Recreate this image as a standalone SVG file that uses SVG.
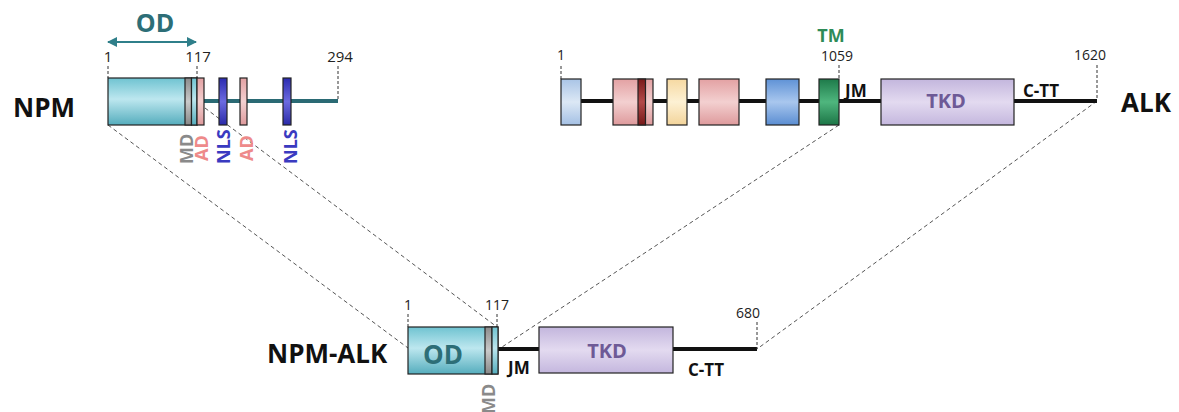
<svg xmlns="http://www.w3.org/2000/svg" width="1179" height="412" viewBox="0 0 1179 412">
<style>
text{font-family:"Open Sans","Liberation Sans",sans-serif}
.b{font-weight:bold}
.num{font-size:15px;fill:#222}
.sn{font-size:14px;fill:#222}
.dash{stroke:#555;stroke-width:1;stroke-dasharray:4,3;fill:none}
.vd{stroke:#333;stroke-width:1;stroke-dasharray:3,2;fill:none}
.box{stroke:#222;stroke-width:1.2}
.bl{stroke:#111;stroke-width:4}
.vl{font-size:18px;font-weight:bold}
.lb{font-size:17px;font-weight:bold;fill:#111}
.tkd{font-size:20px;font-weight:bold;fill:#6e5a96}
</style>
<defs>
<linearGradient id="gOD" x1="0" y1="0" x2="0" y2="1">
<stop offset="0" stop-color="#6fc3d1"/><stop offset="0.45" stop-color="#bde7ef"/><stop offset="1" stop-color="#55adbd"/></linearGradient>
<linearGradient id="gTKD" x1="0" y1="0" x2="0" y2="1">
<stop offset="0" stop-color="#c3b6dd"/><stop offset="0.5" stop-color="#e3daf0"/><stop offset="1" stop-color="#c4b7de"/></linearGradient>
<linearGradient id="gPink" x1="0" y1="0" x2="0" y2="1">
<stop offset="0" stop-color="#e3a1a3"/><stop offset="0.5" stop-color="#f3d0d0"/><stop offset="1" stop-color="#de9a9c"/></linearGradient>
<linearGradient id="gLB" x1="0" y1="0" x2="0" y2="1">
<stop offset="0" stop-color="#a9c4e6"/><stop offset="0.5" stop-color="#dce8f5"/><stop offset="1" stop-color="#a4c0e4"/></linearGradient>
<linearGradient id="gY" x1="0" y1="0" x2="0" y2="1">
<stop offset="0" stop-color="#f6d9a2"/><stop offset="0.5" stop-color="#fdf1d4"/><stop offset="1" stop-color="#f3d49a"/></linearGradient>
<linearGradient id="gB" x1="0" y1="0" x2="0" y2="1">
<stop offset="0" stop-color="#5f92d6"/><stop offset="0.5" stop-color="#a9c7ee"/><stop offset="1" stop-color="#5a8dd2"/></linearGradient>
<linearGradient id="gG" x1="0" y1="0" x2="0" y2="1">
<stop offset="0" stop-color="#1e7a4a"/><stop offset="0.5" stop-color="#4fb67e"/><stop offset="1" stop-color="#1c7546"/></linearGradient>
<linearGradient id="gNLS" x1="0" y1="0" x2="0" y2="1">
<stop offset="0" stop-color="#2b2bb0"/><stop offset="0.5" stop-color="#6b6be0"/><stop offset="1" stop-color="#2a2aa8"/></linearGradient>
<linearGradient id="gGr" x1="0" y1="0" x2="0" y2="1">
<stop offset="0" stop-color="#8c8c8c"/><stop offset="0.5" stop-color="#c9c9c9"/><stop offset="1" stop-color="#888"/></linearGradient>
<linearGradient id="gDR" x1="0" y1="0" x2="0" y2="1">
<stop offset="0" stop-color="#7a1a1a"/><stop offset="0.5" stop-color="#b34a4a"/><stop offset="1" stop-color="#761818"/></linearGradient>
<marker id="ah" viewBox="0 0 10 10" refX="9" refY="5" markerWidth="5" markerHeight="5" orient="auto-start-reverse">
<path d="M0,0 L10,5 L0,10 z" fill="#2f7f8a"/></marker>
</defs>

<g id="connectors">
<line class="dash" x1="108" y1="125" x2="408" y2="348"/>
<line class="dash" x1="205" y1="108" x2="497" y2="327"/>
<line class="dash" x1="839" y1="125" x2="499" y2="349"/>
<line class="dash" x1="1097" y1="101" x2="757" y2="349"/>
</g>

<g id="npm">
<text x="13" y="117" class="b" font-size="26" fill="#111">NPM</text>
<line x1="108" y1="42" x2="196" y2="42" stroke="#2f7f8a" stroke-width="2" marker-start="url(#ah)" marker-end="url(#ah)"/>
<text x="155" y="32" class="b" font-size="25" fill="#2d6e77" text-anchor="middle">OD</text>
<text x="108" y="62" class="num" text-anchor="middle">1</text>
<text x="198" y="62" class="num" text-anchor="middle">117</text>
<text x="340" y="62" class="num" text-anchor="middle">294</text>
<line class="vd" x1="108" y1="66" x2="108" y2="78"/>
<line class="vd" x1="197" y1="66" x2="197" y2="78"/>
<line class="vd" x1="338" y1="66" x2="338" y2="100"/>
<line x1="204" y1="101" x2="338" y2="101" stroke="#2a6a74" stroke-width="4"/>
<rect class="box" x="108" y="78" width="89" height="47" fill="url(#gOD)"/>
<rect class="box" x="185" y="78" width="6.5" height="47" fill="url(#gGr)"/>
<rect class="box" x="191.5" y="78" width="5.5" height="47" fill="url(#gOD)"/>
<rect class="box" x="197" y="78" width="7" height="47" fill="url(#gPink)"/>
<rect class="box" x="219" y="78" width="8" height="47" fill="url(#gNLS)"/>
<rect class="box" x="240" y="78" width="7" height="47" fill="url(#gPink)"/>
<rect class="box" x="283" y="78" width="8" height="47" fill="url(#gNLS)"/>
<text class="vl" transform="translate(193,164) rotate(-90)" fill="#8a8a8a">MD</text>
<text class="vl" transform="translate(208,161) rotate(-90)" fill="#ee8a8a">AD</text>
<text class="vl" transform="translate(230,164) rotate(-90)" fill="#3a3ac0">NLS</text>
<text class="vl" transform="translate(252.5,161) rotate(-90)" fill="#ee8a8a">AD</text>
<text class="vl" transform="translate(296.5,164) rotate(-90)" fill="#3a3ac0">NLS</text>
</g>

<g id="alk">
<line class="bl" x1="581" y1="101" x2="1097" y2="101"/>
<text x="561" y="60" class="sn" text-anchor="middle">1</text>
<line class="vd" x1="561" y1="66" x2="561" y2="79"/>
<rect class="box" x="561" y="79" width="20" height="46" fill="url(#gLB)"/>
<rect class="box" x="613" y="79" width="40" height="46" fill="url(#gPink)"/>
<rect class="box" x="638" y="79" width="7.5" height="46" fill="url(#gDR)"/>
<rect class="box" x="667" y="79" width="20" height="46" fill="url(#gY)"/>
<rect class="box" x="699" y="79" width="40" height="46" fill="url(#gPink)"/>
<rect class="box" x="766" y="79" width="33" height="46" fill="url(#gB)"/>
<rect class="box" x="819" y="79" width="20" height="46" fill="url(#gG)"/>
<text x="831" y="42" class="b" font-size="18" fill="#2e8b57" text-anchor="middle">TM</text>
<text x="837" y="61" class="sn" text-anchor="middle">1059</text>
<line class="vd" x1="839" y1="65" x2="839" y2="79"/>
<text x="845" y="97" class="lb">JM</text>
<rect class="box" x="881" y="79" width="133" height="46" fill="url(#gTKD)"/>
<text x="946" y="108" class="tkd" text-anchor="middle">TKD</text>
<text x="1023" y="97" class="lb">C-TT</text>
<text x="1090" y="60" class="sn" text-anchor="middle">1620</text>
<line class="vd" x1="1097" y1="65" x2="1097" y2="100"/>
<text x="1121" y="112" class="b" font-size="26" fill="#111">ALK</text>
</g>

<g id="npm-alk">
<text x="267" y="363" class="b" font-size="26" fill="#111">NPM-ALK</text>
<text x="408" y="310" class="sn" text-anchor="middle">1</text>
<text x="497" y="310" class="sn" text-anchor="middle">117</text>
<line class="vd" x1="408" y1="314" x2="408" y2="327"/>
<line class="vd" x1="497" y1="314" x2="497" y2="327"/>
<line class="bl" x1="498" y1="349" x2="539" y2="349"/>
<line class="bl" x1="673" y1="349" x2="757" y2="349"/>
<rect class="box" x="408" y="327" width="90" height="47" fill="url(#gOD)"/>
<rect class="box" x="485" y="327" width="7" height="47" fill="url(#gGr)"/>
<rect class="box" x="492" y="327" width="6" height="47" fill="url(#gOD)"/>
<text x="443" y="364" class="b" font-size="26" fill="#2d6e77" text-anchor="middle">OD</text>
<text class="vl" transform="translate(495,414) rotate(-90)" fill="#8a8a8a">MD</text>
<text x="508" y="374" class="lb">JM</text>
<rect class="box" x="539" y="327" width="134" height="46" fill="url(#gTKD)"/>
<text x="607" y="358" class="tkd" text-anchor="middle">TKD</text>
<text x="688" y="376" class="lb">C-TT</text>
<text x="748" y="318" class="sn" text-anchor="middle">680</text>
<line class="vd" x1="757" y1="322" x2="757" y2="349"/>
</g>
</svg>
